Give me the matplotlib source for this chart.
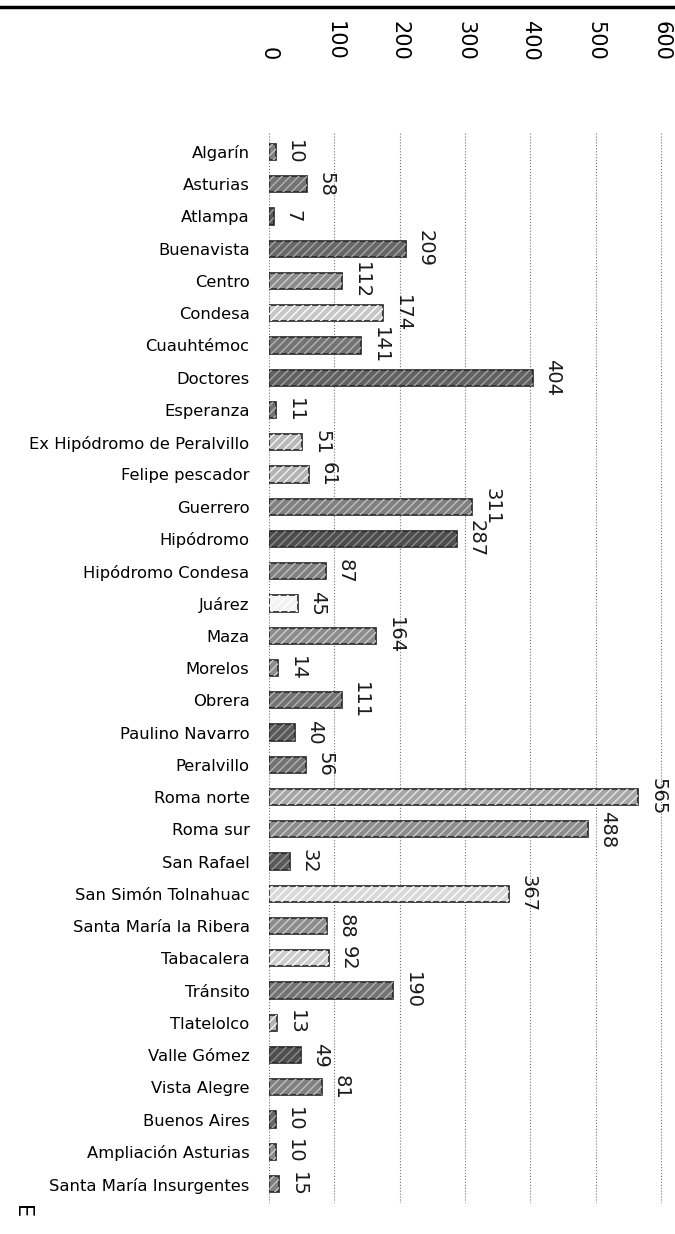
import matplotlib
matplotlib.use("Agg")
from matplotlib import pyplot as plt
from matplotlib.lines import Line2D

colonias = ["Algarín", "Asturias", "Atlampa", "Buenavista", "Centro", "Condesa",
            "Cuauhtémoc", "Doctores", "Esperanza", "Ex Hipódromo de Peralvillo",
            "Felipe pescador", "Guerrero", "Hipódromo", "Hipódromo Condesa",
            "Juárez", "Maza", "Morelos", "Obrera", "Paulino Navarro", "Peralvillo",
            "Roma norte", "Roma sur", "San Rafael", "San Simón Tolnahuac",
            "Santa María la Ribera", "Tabacalera", "Tránsito", "Tlatelolco",
            "Valle Gómez", "Vista Alegre", "Buenos Aires", "Ampliación Asturias",
            "Santa María Insurgentes"]
valores = [10, 58, 7, 209, 112, 174, 141, 404, 11, 51, 61, 311, 287, 87, 45, 164,
           14, 111, 40, 56, 565, 488, 32, 367, 88, 92, 190, 13, 49, 81, 10, 10, 15]

# gray level of each bar, as scanned
shades = [0.5, 0.45, 0.35, 0.4, 0.55, 0.78, 0.45, 0.38, 0.45, 0.72, 0.7, 0.5, 0.3,
          0.5, 0.95, 0.55, 0.55, 0.45, 0.35, 0.45, 0.65, 0.55, 0.35, 0.85, 0.55,
          0.8, 0.45, 0.7, 0.3, 0.5, 0.4, 0.55, 0.5]
ticks = [0, 100, 200, 300, 400, 500, 600]

W, H = 675, 1234
fig = plt.figure(figsize=(W / 100, H / 100), dpi=100)
top_px, bottom_px = 132.6, 1203.4
left_px, right_px = 269, 673
ax = fig.add_axes([left_px / W, 1 - bottom_px / H,
                   (right_px - left_px) / W, (bottom_px - top_px) / H])

pos = list(range(len(colonias)))
faces = [str(s) for s in shades]
hatch_cols = [str(min(1.0, s + 0.25)) for s in shades]

ax.barh(pos, valores, height=0.5, color=faces, edgecolor="0.15", linewidth=1.2, zorder=3)
ax.barh(pos, valores, height=0.5, color="none", edgecolor=hatch_cols, hatch="////",
        linewidth=0, zorder=3)

for y, v in zip(pos, valores):
    ax.annotate(str(v), (v, y), xytext=(7, 0), textcoords="offset points",
                rotation=-90, ha="left", va="center", fontsize=14, color="0.1")

ax.set_xlim(0, 618)
ax.set_ylim(len(colonias) - 0.4, -0.6)
ax.xaxis.tick_top()
ax.set_xticks(ticks)
ax.set_xticklabels([str(t) for t in ticks], rotation=-90, fontsize=15)
ax.tick_params(axis="x", length=0, pad=52)
ax.set_yticks(pos)
ax.set_yticklabels(colonias, fontsize=11.8)
ax.tick_params(axis="y", length=0, pad=14)
ax.grid(axis="x", linestyle=":", color="0.45", linewidth=0.8, zorder=0)
for s in ax.spines.values():
    s.set_visible(False)

fig.add_artist(Line2D([0, 1], [1 - 7 / H, 1 - 7 / H], color="black", linewidth=2.5,
                      transform=fig.transFigure))
fig.text(22 / W, 1 - 1212 / H, "E", rotation=-90, ha="center", va="center", fontsize=15)

fig.savefig("out.png", dpi=100)
